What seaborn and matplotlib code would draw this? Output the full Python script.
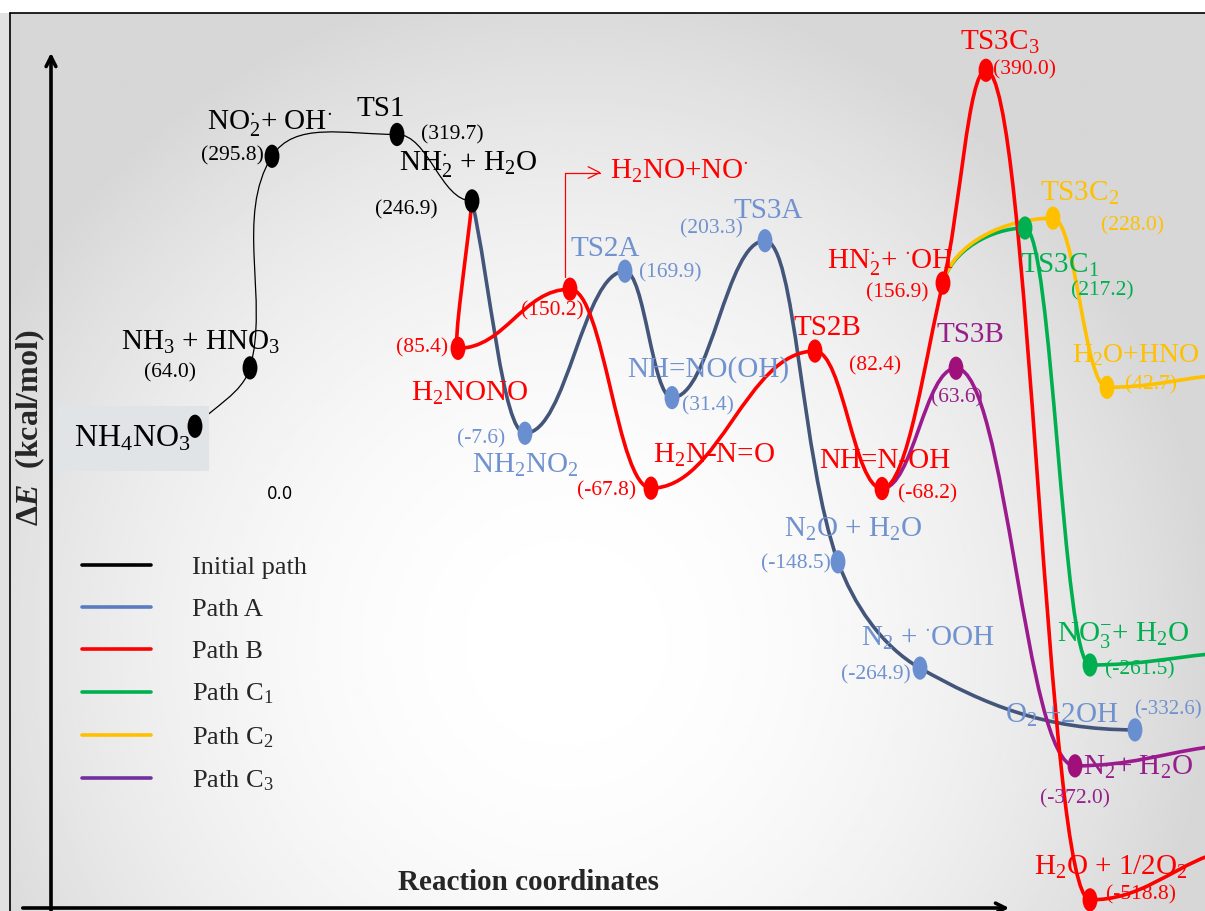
import numpy as np
import pandas as pd
import matplotlib
matplotlib.use("Agg")
import matplotlib.pyplot as plt
import seaborn as sns
from matplotlib.path import Path
from matplotlib.patches import PathPatch, Rectangle
from matplotlib.lines import Line2D

# -----------------------------
# data: states on the energy surface
# -----------------------------
state_names = ["NH4NO3", "NH3+HNO3", "NO2+OH", "TS1", "NH2+H2O",
               "H2NONO", "B150", "H2N-N=O", "TS2B", "NH=N-OH", "HN2+OH", "TS3C3", "H2O+1/2O2",
               "NH2NO2", "TS2A", "NH=NO(OH)", "TS3A", "N2O+H2O", "N2+OOH", "O2+2OH",
               "TS3C1", "NO3-+H2O", "TS3C2", "H2O+HNO", "TS3B", "N2+H2O"]
rxn_coord = [195, 250, 272, 397, 472,
             458, 570, 651, 815, 882, 943, 986, 1090,
             525, 625, 672, 765, 838, 920, 1135,
             1025, 1090, 1053, 1107, 956, 1075]
energy = [0.0, 64.0, 295.8, 319.7, 246.9,
          85.4, 150.2, -67.8, 82.4, -68.2, 156.9, 390.0, -518.8,
          -7.6, 169.9, 31.4, 203.3, -148.5, -264.9, -332.6,
          217.2, -261.5, 228.0, 42.7, 63.6, -372.0]
state_group = ["init"] * 5 + ["B"] * 8 + ["A"] * 7 + ["C1", "C1", "C2", "C2", "C3", "C3"]

# reaction paths (sequence of states)
paths = {
    "init": ["NH4NO3", "NH3+HNO3", "NO2+OH", "TS1", "NH2+H2O"],
    "A": ["NH2+H2O", "NH2NO2", "TS2A", "NH=NO(OH)", "TS3A", "N2O+H2O", "N2+OOH", "O2+2OH"],
    "B": ["NH2+H2O", "H2NONO", "B150", "H2N-N=O", "TS2B", "NH=N-OH", "HN2+OH", "TS3C3", "H2O+1/2O2"],
    "C1": ["HN2+OH", "TS3C1", "NO3-+H2O"],
    "C2": ["HN2+OH", "TS3C2", "H2O+HNO"],
    "C3": ["NH=N-OH", "TS3B", "N2+H2O"],
}
legend_labels = ["Initial path", "Path A", "Path B", "Path C$_1$", "Path C$_2$", "Path C$_3$"]

# labels: state, text, offset x / y (pixels, y downwards), kind
labels = [
    ("NH4NO3", "NH$_4$NO$_3$", -62, 12, "big"),
    ("NH4NO3", "0.0", 85, 68, "sans"),
    ("NH3+HNO3", "NH$_3$ + HNO$_3$", -50, -25, "name"),
    ("NH3+HNO3", "(64.0)", -80, 5, "val"),
    ("NO2+OH", r"NO$_2^{\cdot}$+ OH$^{\cdot}$", -2, -32, "name"),
    ("NO2+OH", "(295.8)", -40, 0, "val"),
    ("TS1", "TS1", -16, -25, "name"),
    ("TS1", "(319.7)", 55, 0, "val"),
    ("NH2+H2O", r"NH$_2^{\cdot}$ + H$_2$O", -4, -36, "name"),
    ("NH2+H2O", "(246.9)", -66, 9, "val"),
    ("H2NONO", "(85.4)", -36, 0, "val"),
    ("H2NONO", "H$_2$NONO", 12, 45, "name"),
    ("B150", "(150.2)", -18, 22, "val"),
    ("TS2A", "TS2A", -20, -22, "name"),
    ("TS2A", "(169.9)", 45, 2, "val"),
    ("NH2NO2", "NH$_2$NO$_2$", 0, 32, "name"),
    ("NH2NO2", "(-7.6)", -44, 6, "val"),
    ("H2N-N=O", "(-67.8)", -44, 3, "val"),
    ("H2N-N=O", "H$_2$N-N=O", 63, -33, "name"),
    ("NH=NO(OH)", "NH=NO(OH)", 36, -28, "name"),
    ("NH=NO(OH)", "(31.4)", 36, 8, "val"),
    ("TS3A", "TS3A", 3, -30, "name"),
    ("TS3A", "(203.3)", -54, -12, "val"),
    ("TS2B", "TS2B", 12, -23, "name"),
    ("TS2B", "(82.4)", 60, 15, "val"),
    ("NH=N-OH", "NH=N-OH", 3, -28, "name"),
    ("NH=N-OH", "(-68.2)", 46, 5, "val"),
    ("HN2+OH", r"HN$_2^{\cdot}$+ ${}^{\cdot}$OH", -53, -20, "name"),
    ("HN2+OH", "(156.9)", -46, 10, "val"),
    ("TS3C3", "TS3C$_3$", 14, -28, "name"),
    ("TS3C3", "(390.0)", 39, 0, "val"),
    ("TS3C1", "TS3C$_1$", 35, 37, "name"),
    ("TS3C1", "(217.2)", 77, 63, "val"),
    ("TS3C2", "TS3C$_2$", 27, -25, "name"),
    ("TS3C2", "(228.0)", 80, 8, "val"),
    ("H2O+HNO", "H$_2$O+HNO", -35, -32, "name_l"),
    ("H2O+HNO", "(42.7)", 18, -2, "val_l"),
    ("TS3B", "TS3B", 14, -33, "name"),
    ("TS3B", "(63.6)", 1, 30, "val"),
    ("N2O+H2O", "N$_2$O + H$_2$O", 15, -32, "name"),
    ("N2O+H2O", "(-148.5)", -42, 2, "val"),
    ("N2+OOH", r"N$_2$ + ${}^{\cdot}$OOH", 8, -30, "name"),
    ("N2+OOH", "(-264.9)", -44, 7, "val"),
    ("O2+2OH", "O$_2$ +2OH", -73, -14, "name"),
    ("O2+2OH", "(-332.6)", 33, -20, "val_s"),
    ("NO3-+H2O", "NO$_3^{-}$+ H$_2$O", 33, -30, "name"),
    ("NO3-+H2O", "(-261.5)", 50, 5, "val"),
    ("N2+H2O", "N$_2$+ H$_2$O", 63, 2, "name"),
    ("N2+H2O", "(-372.0)", 0, 33, "val"),
    ("H2O+1/2O2", "H$_2$O + 1/2O$_2$", 21, -32, "name"),
    ("H2O+1/2O2", "(-518.8)", 51, -5, "val"),
]

# -----------------------------
# styles
# -----------------------------
line_col = {"init": "#000000", "A": "#44557a", "B": "#ff0000",
            "C1": "#00b050", "C2": "#ffc000", "C3": "#9b1b8f"}
line_w = {"init": 0.9, "A": 2.6, "B": 2.6, "C1": 2.6, "C2": 2.6, "C3": 2.6}
mark_col = {"init": "#000000", "A": "#6a8fd0", "B": "#ff0000",
            "C1": "#00b050", "C2": "#ffc000", "C3": "#a0107a"}
text_col = {"init": "#000000", "A": "#7092cf", "B": "#ff0000",
            "C1": "#00b050", "C2": "#ffc000", "C3": "#96208a"}
legend_col = ["#000000", "#5b7bc0", "#ff0000", "#00b050", "#ffc000", "#7030a0"]
tails = {"B": (118, 48), "C1": (120, 12), "C2": (100, 12), "C3": (130, 20)}

sns.set_style("white")
plt.rcParams["font.family"] = ["Liberation Serif", "DejaVu Serif"]
plt.rcParams["mathtext.fontset"] = "custom"
plt.rcParams["mathtext.rm"] = "Liberation Serif"
plt.rcParams["mathtext.it"] = "Liberation Serif:italic"
plt.rcParams["mathtext.bf"] = "Liberation Serif:bold"
plt.rcParams["mathtext.bfit"] = "Liberation Serif:italic:bold"

W, H = 1205, 911
Y_TOP, Y_BOT = 467.0, -531.0
KY = H / (Y_TOP - Y_BOT)

states = pd.DataFrame({"name": state_names, "coord": rxn_coord,
                       "energy": energy, "group": state_group}).set_index("name")

fig = plt.figure(figsize=(W / 100, H / 100), dpi=100)
ax = fig.add_axes([0, 0, 1, 1])
ax.axis("off")

# background
gx, gy = np.meshgrid(np.linspace(0, W, 400), np.linspace(0, H, 300))
r2 = ((gx - 560) / 700) ** 2 + ((gy - 640) / 720) ** 2
shade = np.maximum(1 - 0.18 * r2, 0.84)
ax.imshow(shade, cmap="gray", vmin=0, vmax=1, aspect="auto", origin="upper",
          extent=(10 / W, 1, 0, 1 - 13 / H), transform=ax.transAxes, zorder=0)
ax.add_patch(Rectangle((0, 0), 10 / W, 1 - 13 / H, transform=ax.transAxes,
                       fc="#e2e2e2", ec="none", zorder=0))
ax.plot([10 / W, 1], [1 - 13 / H] * 2, transform=ax.transAxes, color="black", lw=1.2)
ax.plot([10 / W] * 2, [0, 1 - 13 / H], transform=ax.transAxes, color="black", lw=1.2)


def curve(names, start_dir=None, tail=None):
    px = [float(states.loc[n, "coord"]) for n in names]
    py = [states.loc[n, "energy"] * KY for n in names]
    n_st = len(px)
    if tail is not None:
        px.append(px[-1] + tail[0])
        py.append(py[-1] + tail[1] * KY)
    n = len(px)
    dirs = []
    for i in range(n):
        if i == 0:
            v = start_dir if start_dir is not None else (px[1] - px[0], py[1] - py[0])
        elif i == n - 1:
            v = (1, 0) if tail is None else (px[i] - px[i - 1], py[i] - py[i - 1])
        elif i == n_st - 1:
            v = (1, 0)
        elif (py[i] - py[i - 1]) * (py[i + 1] - py[i]) < 0:
            v = (1, 0)
        else:
            v = (px[i + 1] - px[i - 1], py[i + 1] - py[i - 1])
        v = np.array(v, float)
        dirs.append(v / np.hypot(*v))
    verts, codes = [(px[0], py[0])], [Path.MOVETO]
    for i in range(n - 1):
        p0 = np.array([px[i], py[i]])
        p1 = np.array([px[i + 1], py[i + 1]])
        chord = np.hypot(*(p1 - p0))
        dx = abs(p1[0] - p0[0])
        h0 = 0.42 * dx if abs(dirs[i][1]) < 1e-9 else 0.33 * chord
        h1 = 0.42 * dx if abs(dirs[i + 1][1]) < 1e-9 else 0.33 * chord
        verts += [tuple(p0 + dirs[i] * h0), tuple(p1 - dirs[i + 1] * h1), tuple(p1)]
        codes += [Path.CURVE4] * 3
    verts = [(x, y / KY) for x, y in verts]
    return Path(verts, codes), dict(zip(names, dirs))


red_path, red_dirs = curve(paths["B"], tail=tails["B"])
drawn = {"B": red_path}
drawn["init"], _ = curve(paths["init"])
drawn["A"], _ = curve(paths["A"])
for key in ["C1", "C2", "C3"]:
    drawn[key], _ = curve(paths[key], start_dir=red_dirs[paths[key][0]], tail=tails[key])

for key in ["init", "A", "C3", "C1", "C2", "B"]:
    ax.add_patch(PathPatch(drawn[key], fc="none", ec=line_col[key], lw=line_w[key],
                           capstyle="round", zorder=3))

# markers
circ = Path.unit_circle()
ell = Path(circ.vertices * np.array([0.64, 1.0]), circ.codes)
sns.scatterplot(data=states.reset_index(), x="coord", y="energy", hue="group",
                palette=mark_col, marker=ell, s=280, linewidth=0, legend=False,
                ax=ax, zorder=5)

# labels
for st, txt, dx, dy, kind in labels:
    x0, e0 = states.loc[st, "coord"], states.loc[st, "energy"]
    col = text_col[states.loc[st, "group"]]
    ha = "left" if kind.endswith("_l") else "center"
    kw = dict(fontsize=21, zorder=6)
    if kind == "name_l":
        kw = dict(fontsize=20, zorder=6)
    if kind.startswith("val"):
        kw = dict(fontsize=15 if kind == "val_s" else 15.5, zorder=6)
    if kind == "big":
        kw = dict(fontsize=23, zorder=4,
                  bbox=dict(boxstyle="square,pad=0.55", fc="#e1e4e6", ec="none"))
    if kind == "sans":
        kw = dict(fontsize=12, family="DejaVu Sans", zorder=6)
    ax.annotate(txt, (x0, e0), xytext=(dx, -dy), textcoords="offset pixels",
                ha=ha, va="center", color=col, annotation_clip=False, **kw)

# side product arrow
ax.annotate(r"H$_2$NO+NO$^{\cdot}$", (states.loc["B150", "coord"] - 5, states.loc["B150", "energy"]),
            xytext=(45, 118), textcoords="offset pixels", ha="left", va="center",
            color="#ff0000", fontsize=21, zorder=6,
            arrowprops=dict(arrowstyle="<-", color="#ff0000", lw=0.9,
                            connectionstyle="angle,angleA=0,angleB=90,rad=0",
                            relpos=(0, 0.45), shrinkA=4, shrinkB=9))

# axes arrows and titles
ax.annotate("", xy=(51 / W, 1 - 50 / H), xytext=(51 / W, -0.01), xycoords="axes fraction",
            arrowprops=dict(arrowstyle="->,head_length=0.7,head_width=0.35", lw=2.6, color="black"))
ax.annotate("", xy=(1012 / W, 3 / H), xytext=(20 / W, 3 / H), xycoords="axes fraction",
            arrowprops=dict(arrowstyle="->,head_length=0.7,head_width=0.35", lw=2.6, color="black"))
ax.text(30 / W, 1 - 428 / H, r"$\mathbf{\Delta}\mathbfit{E}$  (kcal/mol)", rotation=90,
        transform=ax.transAxes, ha="center", va="center", fontsize=23, fontweight="bold")
ax.text(528 / W, 1 - 882 / H, "Reaction coordinates", transform=ax.transAxes,
        ha="center", va="center", fontsize=21, fontweight="bold")

handles = [Line2D([], [], color=c, lw=2.6) for c in legend_col]
ax.legend(handles, legend_labels, loc="upper left", bbox_to_anchor=(82 / W, 1 - 556 / H),
          frameon=False, fontsize=19, handlelength=2.6, handletextpad=1.55,
          labelspacing=0.7, borderpad=0, borderaxespad=0)

ax.set_xlim(0, W)
ax.set_ylim(Y_BOT, Y_TOP)
fig.savefig("out.png", dpi=100)
